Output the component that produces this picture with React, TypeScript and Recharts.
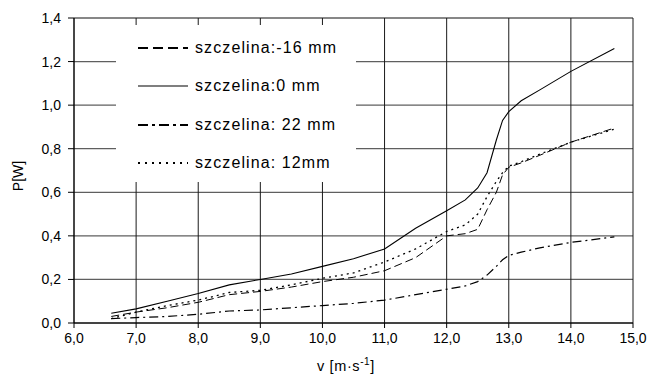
import {
  LineChart,
  Line,
  XAxis,
  YAxis,
  CartesianGrid,
  Legend,
} from "recharts";

// predkosc [m/s]
const speeds = [
  6.6, 7.0, 7.5, 8.0, 8.5, 9.0, 9.5, 10.0, 10.5, 11.0, 11.5, 12.0, 12.3, 12.5,
  12.65, 12.8, 12.9, 13.0, 13.2, 13.5, 14.0, 14.7,
];

const gapMinus16 = [
  0.03, 0.05, 0.07, 0.095, 0.13, 0.145, 0.165, 0.19, 0.21, 0.24, 0.3, 0.4,
  0.41, 0.43, 0.52, 0.6, 0.68, 0.715, 0.735, 0.77, 0.83, 0.895,
];
const gap0 = [
  0.045, 0.065, 0.1, 0.135, 0.175, 0.2, 0.225, 0.26, 0.295, 0.34, 0.435, 0.515,
  0.565, 0.62, 0.69, 0.84, 0.93, 0.97, 1.02, 1.07, 1.155, 1.26,
];
const gap22 = [
  0.02, 0.025, 0.03, 0.04, 0.055, 0.06, 0.07, 0.08, 0.09, 0.105, 0.13, 0.155,
  0.17, 0.19, 0.22, 0.26, 0.29, 0.31, 0.325, 0.345, 0.37, 0.395,
];
const gap12 = [
  0.02, 0.05, 0.08, 0.105, 0.14, 0.15, 0.175, 0.205, 0.23, 0.28, 0.34, 0.42,
  0.45, 0.5, 0.58, 0.65, 0.69, 0.72, 0.74, 0.775, 0.83, 0.89,
];

const xTicks = [6, 7, 8, 9, 10, 11, 12, 13, 14, 15];
const yTicks = [0, 0.2, 0.4, 0.6, 0.8, 1.0, 1.2, 1.4];

const seriesNames = [
  "szczelina:-16 mm",
  "szczelina:0 mm",
  "szczelina: 22 mm",
  "szczelina: 12mm",
];

const data = speeds.map((v, i) => ({
  v,
  m16: gapMinus16[i],
  z0: gap0[i],
  p22: gap22[i],
  p12: gap12[i],
}));

const FONT = "'Liberation Sans', Arial, sans-serif";
const comma = (n: number) => n.toFixed(1).replace(".", ",");

const legendDash = ["10 5", undefined, "10 4 3 4", "2 5"];

const LegendBox = () => (
  <div
    style={{
      background: "#fff",
      width: 240,
      height: 157,
      fontFamily: FONT,
      fontSize: 16,
      color: "#000",
      position: "relative",
    }}
  >
    {seriesNames.map((name, i) => (
      <div
        key={name}
        style={{
          position: "absolute",
          left: 22,
          top: 23 + i * 38.3 - 10,
          height: 20,
          display: "flex",
          alignItems: "center",
          whiteSpace: "nowrap",
        }}
      >
        <svg width={57} height={20}>
          <line
            x1={0}
            y1={10}
            x2={50}
            y2={10}
            stroke="#000"
            strokeWidth={i === 1 ? 1.2 : 2.2}
            strokeDasharray={legendDash[i]}
          />
        </svg>
        <span style={{ letterSpacing: 1.1 }}>{name}</span>
      </div>
    ))}
  </div>
);

const XTitle = () => (
  <text
    x={346}
    y={371}
    textAnchor="middle"
    fontFamily={FONT}
    fontSize={14.5}
    letterSpacing={0.6}
    fill="#000"
  >
    v{"  "}[m·s
    <tspan dy={-6} fontSize={10}>
      -1
    </tspan>
    <tspan dy={6}>]</tspan>
  </text>
);

const YTitle = () => (
  <text
    x={18}
    y={176}
    transform="rotate(-90 18 176)"
    textAnchor="middle"
    dominantBaseline="central"
    fontFamily={FONT}
    fontSize={14}
    fill="#000"
  >
    P[W]
  </text>
);

export default function App() {
  return (
    <div style={{ position: "absolute", left: 0, top: 0 }}>
      <LineChart
        width={649}
        height={374}
        data={data}
        margin={{ top: 18, right: 16, left: 0, bottom: 0 }}
      >
        <CartesianGrid
          horizontal={true}
          vertical={false}
          stroke="#5f5f5f"
          strokeWidth={1.3}
        />
        <CartesianGrid horizontal={false} vertical={true} stroke="#1a1a1a" />
        <XAxis
          dataKey="v"
          type="number"
          domain={[6, 15]}
          ticks={xTicks}
          tickFormatter={comma}
          height={51}
          tickSize={5}
          tickMargin={5}
          stroke="#000"
          tick={{ fill: "#000", fontSize: 14, fontFamily: FONT }}
          label={() => <XTitle />}
        />
        <YAxis
          domain={[0, 1.4]}
          ticks={yTicks}
          tickFormatter={comma}
          width={74}
          tickSize={6}
          tickMargin={7}
          stroke="#000"
          tick={{ fill: "#000", fontSize: 14, fontFamily: FONT }}
          label={() => <YTitle />}
        />
        <Legend
          verticalAlign="middle"
          align="center"
          layout="horizontal"
          wrapperStyle={{ left: 116, top: 25, width: 240, height: 157 }}
          content={() => <LegendBox />}
        />
        <Line
          type="linear"
          dataKey="m16"
          name={seriesNames[0]}
          stroke="#000"
          strokeWidth={1}
          strokeDasharray="8 4"
          dot={false}
          isAnimationActive={false}
        />
        <Line
          type="linear"
          dataKey="z0"
          name={seriesNames[1]}
          stroke="#000"
          strokeWidth={1.1}
          dot={false}
          isAnimationActive={false}
        />
        <Line
          type="linear"
          dataKey="p22"
          name={seriesNames[2]}
          stroke="#000"
          strokeWidth={1.2}
          strokeDasharray="9 4 2 4"
          dot={false}
          isAnimationActive={false}
        />
        <Line
          type="linear"
          dataKey="p12"
          name={seriesNames[3]}
          stroke="#000"
          strokeWidth={1.3}
          strokeDasharray="2 4"
          dot={false}
          isAnimationActive={false}
        />
      </LineChart>
    </div>
  );
}
